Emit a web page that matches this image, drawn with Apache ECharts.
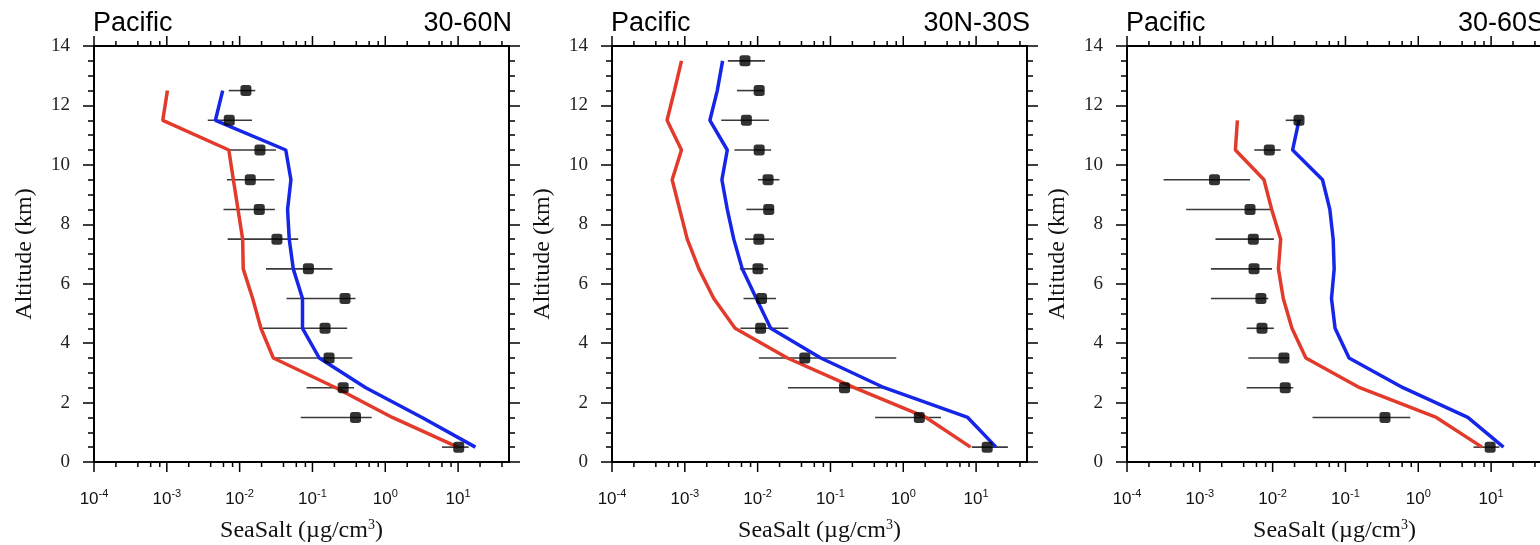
<!DOCTYPE html>
<html>
<head>
<meta charset="utf-8">
<script src="https://cdn.jsdelivr.net/npm/echarts@6/dist/echarts.min.js"></script>
<style>
html,body{margin:0;padding:0;background:#fff;}
#chart{width:1540px;height:545px;}
</style>
</head>
<body>
<div id="chart"></div>
<script>
// ---------- DATA ----------
const panelTitlesLeft = ['Pacific', 'Pacific', 'Pacific'];
const panelTitlesRight = ['30-60N', '30N-30S', '30-60S'];

const xMajorTicks = [1e-4, 1e-3, 1e-2, 1e-1, 1, 10];
const xMinorTicks = [2e-4, 4e-4, 6e-4, 8e-4, 2e-3, 4e-3, 6e-3, 8e-3, 2e-2, 4e-2, 6e-2, 8e-2,
                     0.2, 0.4, 0.6, 0.8, 2, 4, 6, 8, 20, 40];

// Panel 1 : 30-60N
const alt1 = [12.5, 11.5, 10.5, 9.5, 8.5, 7.5, 6.5, 5.5, 4.5, 3.5, 2.5, 1.5, 0.5];
const red1 = [0.00102, 0.00088, 0.0071, 0.0082, 0.0095, 0.011, 0.0112, 0.0151, 0.0196, 0.029, 0.209, 1.25, 9.9];
const blue1 = [0.00585, 0.00465, 0.043, 0.0506, 0.0455, 0.048, 0.0545, 0.073, 0.073, 0.124, 0.54, 3.2, 17.3];
const obs1 = [0.0122, 0.0072, 0.019, 0.014, 0.0186, 0.0325, 0.088, 0.28, 0.149, 0.169, 0.264, 0.39, 10.2];
const obs1Lo = [0.0071, 0.00365, 0.0071, 0.0067, 0.006, 0.00685, 0.023, 0.044, 0.0207, 0.0283, 0.083, 0.069, 6.0];
const obs1Hi = [0.0164, 0.0148, 0.0315, 0.030, 0.0305, 0.0637, 0.188, 0.39, 0.30, 0.353, 0.372, 0.65, 14];

// Panel 2 : 30N-30S
const alt2 = [13.5, 12.5, 11.5, 10.5, 9.5, 8.5, 7.5, 6.5, 5.5, 4.5, 3.5, 2.5, 1.5, 0.5];
const red2 = [0.0009, 0.00072, 0.00057, 0.0009, 0.00067, 0.00085, 0.00108, 0.00156, 0.0025, 0.0049, 0.0256, 0.212, 2.05, 8.4];
const blue2 = [0.0033, 0.00279, 0.00221, 0.00383, 0.00323, 0.00383, 0.0047, 0.00615, 0.0096, 0.0151, 0.0736, 0.548, 7.67, 18.8];
const obs2 = [0.0067, 0.0105, 0.0070, 0.0105, 0.0139, 0.0142, 0.0104, 0.0101, 0.0113, 0.0110, 0.0444, 0.156, 1.66, 14.2];
const obs2Lo = [0.0039, 0.0052, 0.00316, 0.0048, 0.0101, 0.0070, 0.0067, 0.0057, 0.0064, 0.0058, 0.0104, 0.0261, 0.41, 8.7];
const obs2Hi = [0.0126, 0.0122, 0.0143, 0.0153, 0.0199, 0.0168, 0.0168, 0.0139, 0.0179, 0.0264, 0.80, 0.577, 3.30, 27.3];

// Panel 3 : 30-60S
const alt3 = [11.5, 10.5, 9.5, 8.5, 7.5, 6.5, 5.5, 4.5, 3.5, 2.5, 1.5, 0.5];
const red3 = [0.00328, 0.00308, 0.0076, 0.0097, 0.0129, 0.0120, 0.014, 0.0184, 0.0286, 0.157, 1.77, 7.5];
const blue3 = [0.023, 0.0188, 0.0484, 0.061, 0.0678, 0.070, 0.0643, 0.072, 0.112, 0.617, 4.79, 14.8];
const obs3 = [0.023, 0.009, 0.00159, 0.00489, 0.00543, 0.00555, 0.0069, 0.00714, 0.0143, 0.0149, 0.349, 9.7];
const obs3Lo = [0.0151, 0.0056, 0.000318, 0.00065, 0.00164, 0.00142, 0.00142, 0.0044, 0.00464, 0.0044, 0.0353, 5.73];
const obs3Hi = [0.025, 0.0129, 0.00489, 0.01, 0.0104, 0.0098, 0.00873, 0.0104, 0.0169, 0.0192, 0.776, 13.0];

// ---------- BUILD ----------
const panels = [
  {alt: alt1, red: red1, blue: blue1, obs: obs1, lo: obs1Lo, hi: obs1Hi},
  {alt: alt2, red: red2, blue: blue2, obs: obs2, lo: obs2Lo, hi: obs2Hi},
  {alt: alt3, red: red3, blue: blue3, obs: obs3, lo: obs3Lo, hi: obs3Hi}
];
const gridLefts = [94, 612, 1127];
const GW = 415, GT = 46, GH = 416;
const RED = '#e23b2c', BLUE = '#1626e8';
const SERIF = '"Liberation Serif", "DejaVu Serif", serif';
const SANS = '"Liberation Sans", Arial, sans-serif';

const option = {
  animation: false,
  backgroundColor: '#fff',
  title: [], grid: [], xAxis: [], yAxis: [], series: []
};

function isPow10(v) {
  const l = Math.log10(v);
  return Math.abs(l - Math.round(l)) < 1e-6;
}

panels.forEach((p, i) => {
  const left = gridLefts[i];
  option.grid.push({
    left: left, top: GT, width: GW, height: GH,
    show: true, borderColor: '#000', borderWidth: 2, backgroundColor: 'transparent',
    containLabel: false, outerBoundsMode: 'none'
  });
  option.title.push({
    text: panelTitlesLeft[i], left: left - 1, top: 10, padding: 0,
    textStyle: {fontFamily: SANS, fontSize: 27, fontWeight: 'normal', color: '#000'}
  });
  option.title.push({
    text: panelTitlesRight[i], left: left + GW + 3, top: 10, padding: 0, textAlign: 'right',
    textStyle: {fontFamily: SANS, fontSize: 27, fontWeight: 'normal', color: '#000'}
  });
  option.xAxis.push({
    type: 'log', logBase: 10, min: 1e-4, max: 50, gridIndex: i,
    splitLine: {show: false}, axisTick: {show: false}, minorTick: {show: false},
    axisLine: {show: true, lineStyle: {color: '#000', width: 2}},
    axisLabel: {
      margin: 26, color: '#111', verticalAlign: 'top',
      formatter: v => isPow10(v) ? '{b|10}{s|' + Math.round(Math.log10(v)) + '}' : '',
      rich: {
        b: {fontFamily: SANS, fontSize: 17, color: '#111', lineHeight: 22},
        s: {fontFamily: SANS, fontSize: 11, color: '#111', lineHeight: 22, padding: [0, 0, 10, 0]}
      }
    },
    name: 'SeaSalt (µg/cm{sup|3})', nameLocation: 'middle', nameGap: 56,
    nameTextStyle: {
      fontFamily: SERIF, fontSize: 24, color: '#111',
      rich: {sup: {fontFamily: SERIF, fontSize: 14, color: '#111', padding: [0, 0, 12, 0]}}
    }
  });
  option.yAxis.push({
    type: 'value', min: 0, max: 14, interval: 2, gridIndex: i, position: 'left',
    splitLine: {show: false},
    axisLine: {show: true, lineStyle: {color: '#000', width: 2}},
    axisTick: {show: true, length: 11, lineStyle: {color: '#000', width: 1.5}},
    minorTick: {show: true, splitNumber: 4, length: 6, lineStyle: {color: '#000', width: 1.5}},
    axisLabel: {fontFamily: SERIF, fontSize: 19, color: '#222', margin: 24},
    name: 'Altitude (km)', nameLocation: 'middle', nameGap: 57,
    nameTextStyle: {fontFamily: SERIF, fontSize: 24, color: '#111'}
  });
  option.yAxis.push({
    type: 'value', min: 0, max: 14, interval: 2, gridIndex: i, position: 'right',
    splitLine: {show: false},
    axisLine: {show: true, lineStyle: {color: '#000', width: 2}},
    axisTick: {show: true, length: 11, lineStyle: {color: '#000', width: 1.5}},
    minorTick: {show: true, splitNumber: 4, length: 6, lineStyle: {color: '#000', width: 1.5}},
    axisLabel: {show: false}
  });
  const yIdx = i * 2;

  // x-axis ticks (major + minor) at bottom and top, positioned by the axis scale
  const tickData = xMajorTicks.map(v => [v, 0, 10]).concat(xMinorTicks.map(v => [v, 0, 5]));
  option.series.push({
    type: 'custom', xAxisIndex: i, yAxisIndex: yIdx, clip: false, silent: true,
    data: tickData,
    renderItem: (params, api) => {
      const v = api.value(0), len = api.value(2);
      const b = api.coord([v, 0]);
      const t = api.coord([v, 14]);
      return {type: 'group', children: [
        {type: 'line', shape: {x1: b[0], y1: b[1], x2: b[0], y2: b[1] + len}, style: {stroke: '#000', lineWidth: 1.5}},
        {type: 'line', shape: {x1: t[0], y1: t[1], x2: t[0], y2: t[1] - len}, style: {stroke: '#000', lineWidth: 1.5}}
      ]};
    }
  });

  // error bars
  option.series.push({
    type: 'custom', xAxisIndex: i, yAxisIndex: yIdx, silent: true, z: 2,
    data: p.alt.map((a, k) => [p.lo[k], p.hi[k], a]),
    encode: {x: [0, 1], y: 2},
    renderItem: (params, api) => {
      const a = api.coord([api.value(0), api.value(2)]);
      const b = api.coord([api.value(1), api.value(2)]);
      return {type: 'line', shape: {x1: a[0], y1: a[1], x2: b[0], y2: b[1]}, style: {stroke: '#3a3a3a', lineWidth: 1.6}};
    }
  });
  option.series.push({
    type: 'line', xAxisIndex: i, yAxisIndex: yIdx, symbol: 'none', z: 3,
    data: p.alt.map((a, k) => [p.red[k], a]),
    lineStyle: {color: RED, width: 3.5}
  });
  option.series.push({
    type: 'line', xAxisIndex: i, yAxisIndex: yIdx, symbol: 'none', z: 3,
    data: p.alt.map((a, k) => [p.blue[k], a]),
    lineStyle: {color: BLUE, width: 3.5}
  });
  option.series.push({
    type: 'scatter', xAxisIndex: i, yAxisIndex: yIdx, z: 4,
    symbol: 'roundRect', symbolSize: 11,
    itemStyle: {color: '#000'},
    data: p.alt.map((a, k) => [p.obs[k], a])
  });
});

const chart = echarts.init(document.getElementById('chart'), null, {renderer: 'canvas'});
chart.setOption(option);
</script>
</body>
</html>
